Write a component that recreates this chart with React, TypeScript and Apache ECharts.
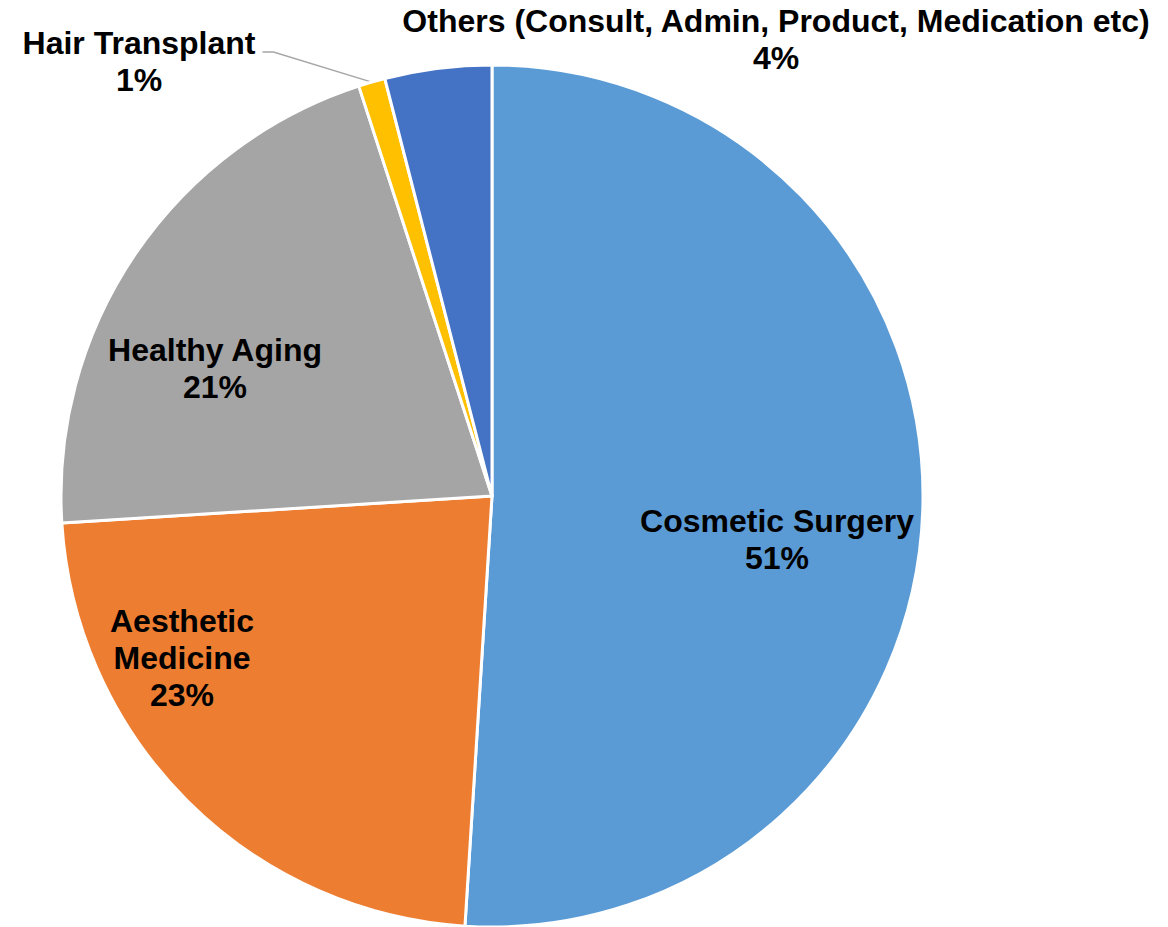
import React, { useEffect, useRef } from "react";
import * as echarts from "echarts";

const categories = [
  "Cosmetic Surgery",
  "Aesthetic Medicine",
  "Healthy Aging",
  "Hair Transplant",
  "Others (Consult, Admin, Product, Medication etc)",
];
const displayLabels = [
  "Cosmetic Surgery",
  "Aesthetic\nMedicine",
  "Healthy Aging",
  "Hair Transplant",
  "Others (Consult, Admin, Product, Medication etc)",
];
const values = [51, 23, 21, 1, 4];
const colors = ["#5B9BD5", "#ED7D31", "#A5A5A5", "#FFC000", "#4472C4"];

// label anchor (centre) positions, in px
const labelCenters: [number, number][] = [
  [777, 539],
  [182, 658],
  [215, 368],
  [139, 61],
  [776, 39],
];

export default function App() {
  const ref = useRef<HTMLDivElement>(null);
  useEffect(() => {
    document.body.style.margin = "0";
    const chart = echarts.init(ref.current!, null, { renderer: "svg" });
    const total = values.reduce((a, b) => a + b, 0);
    chart.setOption({
      animation: false,
      backgroundColor: "#ffffff",
      series: [
        {
          type: "pie",
          center: [492, 496],
          radius: 431,
          startAngle: 90,
          clockwise: true,
          avoidLabelOverlap: false,
          itemStyle: { borderColor: "#ffffff", borderWidth: 3 },
          label: {
            show: true,
            position: "inside",
            color: "#000000",
            fontFamily: "Liberation Sans, Arial, sans-serif",
            fontWeight: "bold",
            fontSize: 32,
            lineHeight: 37,
            align: "center",
            formatter: (p: any) =>
              displayLabels[p.dataIndex] + "\n" + Math.round((p.value / total) * 100) + "%",
          },
          labelLine: { show: false },
          data: categories.map((c, i) => {
            const item: any = { name: c, value: values[i], itemStyle: { color: colors[i] } };
            if (i === 3) {
              item.label = { position: "outside" };
              item.labelLine = { show: true, lineStyle: { color: "#A6A6A6", width: 1.5 } };
            }
            if (i === 4) {
              item.label = { position: "outside" };
            }
            return item;
          }),
          labelLayout: (p: any) => {
            const [cx, cy] = labelCenters[p.dataIndex];
            const res: any = { x: cx, y: cy, align: "center", verticalAlign: "middle" };
            if (p.dataIndex === 3 && p.labelLinePoints) {
              const start = p.labelLinePoints[0];
              const right = cx + p.labelRect.width / 2;
              const ly = cy - 9;
              res.labelLinePoints = [start, [right + 18, ly], [right + 7, ly]];
            }
            return res;
          },
        },
      ],
    });
    return () => chart.dispose();
  }, []);
  return <div ref={ref} style={{ width: 1168, height: 927 }} />;
}
